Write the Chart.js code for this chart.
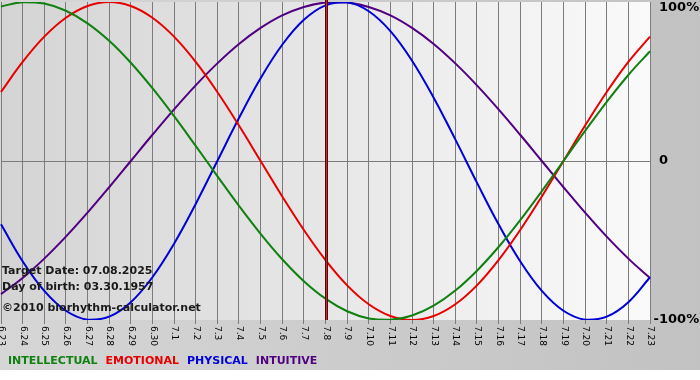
<!DOCTYPE html>
<html>
<head>
<meta charset="utf-8">
<script src="https://cdn.jsdelivr.net/npm/chart.js@4/dist/chart.umd.min.js"></script>
<style>
html,body{margin:0;padding:0;background:#ffffff;}
canvas{display:block;}
</style>
</head>
<body>
<canvas id="c" width="700" height="380"></canvas>
<script>
// ---- data ----
const dayLabels = ['6.23','6.24','6.25','6.26','6.27','6.28','6.29','6.30','7.1','7.2','7.3','7.4','7.5','7.6','7.7','7.8','7.9','7.10','7.11','7.12','7.13','7.14','7.15','7.16','7.17','7.18','7.19','7.20','7.21','7.22','7.23'];
const intellectual = [0.972,0.999,0.990,0.945,0.866,0.756,0.618,0.458,0.282,0.095,-0.095,-0.282,-0.458,-0.618,-0.756,-0.866,-0.945,-0.990,-0.999,-0.972,-0.910,-0.815,-0.690,-0.541,-0.372,-0.189,0.000,0.189,0.372,0.541,0.690];
const emotional    = [0.434,0.623,0.782,0.901,0.975,1.000,0.975,0.901,0.782,0.623,0.434,0.223,0.000,-0.223,-0.434,-0.623,-0.782,-0.901,-0.975,-1.000,-0.975,-0.901,-0.782,-0.623,-0.434,-0.223,0.000,0.223,0.434,0.623,0.782];
const physical     = [-0.398,-0.631,-0.817,-0.942,-0.998,-0.979,-0.888,-0.731,-0.520,-0.270,0.000,0.270,0.520,0.731,0.888,0.979,0.998,0.942,0.817,0.631,0.398,0.136,-0.136,-0.398,-0.631,-0.817,-0.942,-0.998,-0.979,-0.888,-0.731];
const intuitive    = [-0.837,-0.736,-0.614,-0.476,-0.325,-0.165,0.000,0.165,0.325,0.476,0.614,0.736,0.837,0.916,0.969,0.997,0.997,0.969,0.916,0.837,0.736,0.614,0.476,0.325,0.165,0.000,-0.165,-0.325,-0.476,-0.614,-0.736];
const seriesNames  = ['INTELLECTUAL','EMOTIONAL','PHYSICAL','INTUITIVE'];
const seriesColors = ['#108010','#e80000','#0000d8','#500080'];
const yTickValues  = [-1, 0, 1];
const yTickLabels  = ['-100%', '0', '100%'];
const targetLabel  = '7.8';
const infoLines    = ['Target Date: 07.08.2025', 'Day of birth: 03.30.1957', '\u00a92010 biorhythm-calculator.net'];

const FONT = '"DejaVu Sans", Verdana, sans-serif';

const decor = {
  id: 'decor',
  beforeDraw(chart) {
    const ctx = chart.ctx, a = chart.chartArea;
    ctx.save();
    ctx.fillStyle = '#ffffff';
    ctx.fillRect(0, 0, chart.width, chart.height);
    const g = ctx.createLinearGradient(0, 0, chart.width, 0);
    g.addColorStop(0, '#d6d6d6');
    g.addColorStop(1, '#c2c2c2');
    ctx.fillStyle = g;
    ctx.fillRect(0, 0, chart.width, 370);
    const pg = ctx.createLinearGradient(a.left, 0, a.right, 0);
    pg.addColorStop(0, '#d4d4d4');
    pg.addColorStop(1, '#fafafa');
    ctx.fillStyle = pg;
    ctx.fillRect(a.left, a.top, a.right - a.left, a.bottom - a.top);
    ctx.restore();
  },
  afterDatasetsDraw(chart) {
    const ctx = chart.ctx, a = chart.chartArea;
    const xs = chart.scales.x, ys = chart.scales.y;
    ctx.save();
    // target date line
    const tx = Math.round(xs.getPixelForValue(dayLabels.indexOf(targetLabel)));
    ctx.fillStyle = '#5a0808';
    ctx.fillRect(tx - 1, a.top - 2, 3, a.bottom - a.top + 2);
    ctx.fillStyle = '#b83030';
    ctx.fillRect(tx, a.top - 2, 1, a.bottom - a.top + 2);

    // x labels, rotated clockwise
    ctx.fillStyle = '#000000';
    ctx.font = '9px ' + FONT;
    ctx.textAlign = 'left';
    ctx.textBaseline = 'middle';
    dayLabels.forEach((lab, i) => {
      const x = xs.getPixelForValue(i);
      ctx.save();
      ctx.translate(x + 0.5, a.bottom + 6);
      ctx.rotate(Math.PI / 2);
      ctx.fillText(lab, 0, 0);
      ctx.restore();
    });

    // y labels on the right
    ctx.font = 'bold 13px ' + FONT;
    ctx.fillStyle = '#000000';
    yTickValues.forEach((v, i) => {
      let y = ys.getPixelForValue(v);
      if (y < a.top + 6) y = a.top + 6;
      const lab = yTickLabels[i];
      let x = a.right + 9;
      if (lab.charAt(0) === '-') x -= ctx.measureText('-').width;
      ctx.fillText(lab, x, y);
    });

    // info text
    ctx.font = 'bold 11px ' + FONT;
    ctx.fillStyle = '#1a1a1a';
    const infoY = [271, 287, 308];
    infoLines.forEach((t, i) => ctx.fillText(t, 2, infoY[i]));

    // legend
    ctx.font = 'bold 11px ' + FONT;
    let lx = 8;
    seriesNames.forEach((n, i) => {
      ctx.fillStyle = seriesColors[i];
      ctx.fillText(n, lx, 361);
      lx += ctx.measureText(n).width + 8;
    });
    ctx.restore();
  }
};

const seriesData = [intellectual, emotional, physical, intuitive];

new Chart(document.getElementById('c'), {
  type: 'line',
  data: {
    labels: dayLabels,
    datasets: seriesNames.map((n, i) => ({
      label: n,
      data: seriesData[i],
      borderColor: seriesColors[i],
      borderWidth: 2,
      pointRadius: 0,
      tension: 0.4,
      fill: false
    }))
  },
  options: {
    responsive: false,
    animation: false,
    events: [],
    layout: { padding: { left: 1, top: 2, right: 0, bottom: 0 } },
    plugins: { legend: { display: false }, tooltip: { enabled: false } },
    scales: {
      x: {
        type: 'category',
        offset: false,
        border: { display: false },
        grid: { color: '#7c7c7c', lineWidth: 1, drawTicks: true, tickLength: 4, tickColor: '#7c7c7c' },
        ticks: { display: false, autoSkip: false },
        afterFit(s) { s.height = 60; }
      },
      y: {
        position: 'right',
        min: -1, max: 1,
        border: { display: false },
        grid: { color: (c) => (c.tick && c.tick.value === 0 ? '#7c7c7c' : 'rgba(0,0,0,0)'), drawTicks: false },
        ticks: { display: false, stepSize: 1 },
        afterFit(s) { s.width = 50; }
      }
    }
  },
  plugins: [decor]
});
</script>
</body>
</html>
